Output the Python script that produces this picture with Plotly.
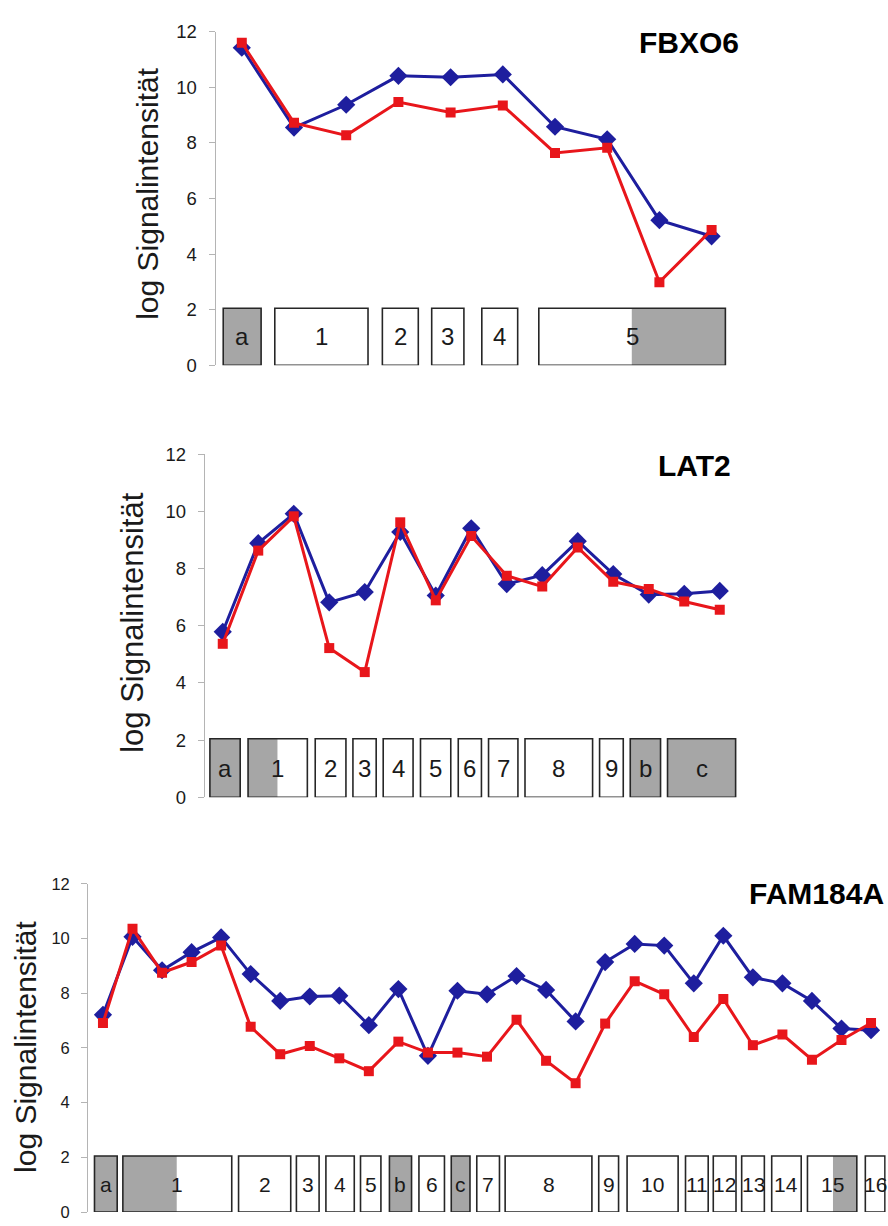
import plotly.graph_objects as go

W, H = 888, 1226

# ---------------- data ----------------
fbxo6_blue = [11.42, 8.55, 9.37, 10.41, 10.36, 10.46, 8.58, 8.13, 5.22, 4.64]
fbxo6_red = [11.60, 8.72, 8.27, 9.47, 9.09, 9.34, 7.64, 7.82, 2.99, 4.87]
fbxo6_exon_labels = ["a", "1", "2", "3", "4", "5"]
fbxo6_exon_start = [-0.356, 0.632, 2.693, 3.638, 4.598, 5.690]
fbxo6_exon_end = [0.370, 2.418, 3.381, 4.255, 5.285, 9.264]
fbxo6_gray_start = [-0.356, None, None, None, None, 7.471]
fbxo6_gray_end = [0.370, None, None, None, None, 9.264]

lat2_blue = [5.79, 8.89, 9.92, 6.82, 7.18, 9.28, 7.06, 9.41, 7.46, 7.77, 8.96, 7.81, 7.09, 7.12, 7.22]
lat2_red = [5.37, 8.63, 9.83, 5.22, 4.38, 9.62, 6.89, 9.14, 7.75, 7.37, 8.74, 7.54, 7.29, 6.85, 6.56]
lat2_exon_labels = ["a", "1", "2", "3", "4", "5", "6", "7", "8", "9", "b", "c"]
lat2_exon_start = [-0.362, 0.713, 2.605, 3.667, 4.520, 5.570, 6.634, 7.487, 8.514, 10.615, 11.479, 12.529]
lat2_exon_end = [0.491, 2.383, 3.470, 4.322, 5.361, 6.423, 7.287, 8.315, 10.418, 11.282, 12.332, 14.447]
lat2_gray_start = [-0.362, 0.713, None, None, None, None, None, None, None, None, 11.479, 12.529]
lat2_gray_end = [0.491, 1.541, None, None, None, None, None, None, None, None, 12.332, 14.447]

fam_blue = [7.21, 10.06, 8.84, 9.50, 10.04, 8.70, 7.72, 7.88, 7.91, 6.83, 8.15, 5.71, 8.09, 7.96,
            8.63, 8.12, 6.97, 9.14, 9.80, 9.74, 8.36, 10.10, 8.58, 8.36, 7.72, 6.71, 6.65]
fam_red = [6.91, 10.36, 8.75, 9.14, 9.74, 6.77, 5.77, 6.07, 5.62, 5.15, 6.23, 5.83, 5.83, 5.68,
           7.03, 5.53, 4.71, 6.89, 8.44, 7.96, 6.40, 7.79, 6.10, 6.49, 5.57, 6.29, 6.91]
fam_exon_labels = ["a", "1", "2", "3", "4", "5", "b", "6", "c", "7", "8", "9", "10", "11", "12",
                   "13", "14", "15", "16"]
fam_exon_start = [-0.287, 0.673, 4.590, 6.548, 7.547, 8.718, 9.697, 10.696, 11.790, 12.654, 13.614,
                  16.782, 17.742, 19.720, 20.660, 21.621, 22.638, 23.848, 25.807]
fam_exon_end = [0.481, 4.359, 6.356, 7.316, 8.507, 9.409, 10.446, 11.560, 12.424, 13.422, 16.551,
                17.454, 19.470, 20.488, 21.429, 22.389, 23.637, 25.519, 26.470]
fam_gray_start = [-0.287, 0.673, None, None, None, None, 9.697, None, 11.790, None, None,
                  None, None, None, None, None, None, 24.712, None]
fam_gray_end = [0.481, 2.497, None, None, None, None, 10.446, None, 12.424, None, None,
                None, None, None, None, None, None, 25.519, None]

y_ticks = [0, 2, 4, 6, 8, 10, 12]
y_title = "log Signalintensität"

# ---------------- styling ----------------
BLUE = "#1e1e9e"
RED = "#e8161b"
GRAY = "#a6a6a6"
EDGE = "#262626"
AXIS = "#b4b4b4"
TXT = "#1a1a1a"
FONT = "Liberation Sans, Arial, sans-serif"

panels = [
    dict(name="FBXO6", blue=fbxo6_blue, red=fbxo6_red, labels=fbxo6_exon_labels,
         xs=fbxo6_exon_start, xe=fbxo6_exon_end, gs=fbxo6_gray_start, ge=fbxo6_gray_end,
         px=(215.7, 737.7), py=(360.5, 21.0), tickfs=18.5, boxfs=24,
         title_xy=(148, 186), title_fs=30, name_xy=(741, 32), name_anchor="right"),
    dict(name="LAT2", blue=lat2_blue, red=lat2_red, labels=lat2_exon_labels,
         xs=lat2_exon_start, xe=lat2_exon_end, gs=lat2_gray_start, ge=lat2_gray_end,
         px=(205.0, 737.5), py=(800.0, 451.0), tickfs=18.5, boxfs=24,
         title_xy=(132.5, 622), title_fs=31, name_xy=(733, 462), name_anchor="right"),
    dict(name="FAM184A", blue=fam_blue, red=fam_red, labels=fam_exon_labels,
         xs=fam_exon_start, xe=fam_exon_end, gs=fam_gray_start, ge=fam_gray_end,
         px=(88.2, 885.8), py=(1222.0, 888.0), tickfs=16.5, boxfs=21,
         title_xy=(26, 1054), title_fs=30, name_xy=(886, 898), name_anchor="right"),
]

fig = go.Figure()
shapes = []
annotations = []

for i, p in enumerate(panels):
    k = "" if i == 0 else str(i + 1)
    xa, ya = "x" + k, "y" + k
    n = len(p["blue"])
    cats = list(range(n))

    fig.add_trace(go.Scatter(x=cats, y=p["blue"], xaxis=xa, yaxis=ya, mode="lines+markers",
                             line=dict(color=BLUE, width=3),
                             marker=dict(symbol="diamond", size=14, color=BLUE),
                             showlegend=False, hoverinfo="skip"))
    fig.add_trace(go.Scatter(x=cats, y=p["red"], xaxis=xa, yaxis=ya, mode="lines+markers",
                             line=dict(color=RED, width=3),
                             marker=dict(symbol="square", size=10, color=RED),
                             showlegend=False, hoverinfo="skip"))

    x0, x1 = p["px"][0] / W, p["px"][1] / W
    y0, y1 = 1 - p["py"][0] / H, 1 - p["py"][1] / H
    fig.update_layout(**{
        "xaxis" + k: dict(domain=[x0, x1], range=[-0.5, n - 0.5], visible=False,
                          anchor=ya, fixedrange=True),
        "yaxis" + k: dict(domain=[y0, y1], range=[0, 12], anchor=xa, tickvals=y_ticks,
                          showgrid=False, zeroline=False, showline=True, linecolor=AXIS,
                          linewidth=1.3, ticks="outside", ticklen=6, tickcolor=AXIS,
                          tickwidth=1.3, ticklabelstandoff=8,
                          tickfont=dict(family=FONT, size=p["tickfs"], color=TXT),
                          fixedrange=True),
    })

    # exon boxes (gene structure)
    for lab, s, e, gs, ge in zip(p["labels"], p["xs"], p["xe"], p["gs"], p["ge"]):
        shapes.append(dict(type="rect", xref=xa, yref=ya, x0=s, x1=e, y0=0, y1=2.05,
                           fillcolor="white", line=dict(width=0), layer="above"))
        if gs is not None:
            shapes.append(dict(type="rect", xref=xa, yref=ya, x0=gs, x1=ge, y0=0, y1=2.05,
                               fillcolor=GRAY, line=dict(width=0), layer="above"))
        shapes.append(dict(type="rect", xref=xa, yref=ya, x0=s, x1=e, y0=0, y1=2.05,
                           fillcolor="rgba(0,0,0,0)", line=dict(color=EDGE, width=1.6),
                           layer="above"))
        annotations.append(dict(xref=xa, yref=ya, x=(s + e) / 2, y=1.02, text=lab,
                                showarrow=False, xanchor="center", yanchor="middle",
                                font=dict(family=FONT, size=p["boxfs"], color=TXT)))

    tx, ty = p["title_xy"]
    annotations.append(dict(xref="paper", yref="paper", x=tx / W, y=1 - ty / H,
                            text=y_title, textangle=-90, showarrow=False,
                            xanchor="center", yanchor="middle",
                            font=dict(family=FONT, size=p["title_fs"], color=TXT)))
    nx, ny = p["name_xy"]
    annotations.append(dict(xref="paper", yref="paper", x=nx / W, y=1 - ny / H,
                            text="<b>" + p["name"] + "</b>", showarrow=False,
                            xanchor=p["name_anchor"], yanchor="middle",
                            font=dict(family=FONT, size=30, color="#000000")))

fig.update_layout(width=W, height=H, margin=dict(l=0, r=0, t=0, b=0),
                  paper_bgcolor="white", plot_bgcolor="white",
                  shapes=shapes, annotations=annotations, showlegend=False)

fig.write_html("out.html", include_plotlyjs=True, config={"displayModeBar": False})
